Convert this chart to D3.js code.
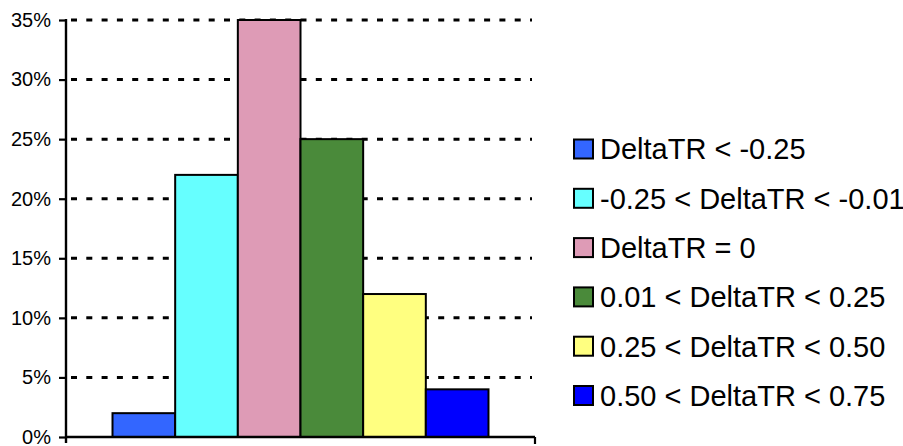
<!DOCTYPE html>
<html><head><meta charset="utf-8">
<script src="https://cdn.jsdelivr.net/npm/d3@7"></script>
<style>body{margin:0;background:#fff}svg{display:block}</style>
</head><body>
<script>
const categories = ["All"];
const seriesNames = ["DeltaTR < -0.25", "-0.25 < DeltaTR < -0.01", "DeltaTR = 0", "0.01 < DeltaTR < 0.25", "0.25 < DeltaTR < 0.50", "0.50 < DeltaTR < 0.75"];
const seriesValues = [2, 22, 35, 25, 12, 4];
const seriesColors = ["#3366FF", "#66FFFF", "#DE9BB6", "#4A8A3A", "#FFFF80", "#0000FF"];
const yTicks = [0, 5, 10, 15, 20, 25, 30, 35];

const W = 903, H = 446;
const svg = d3.select("body").append("svg").attr("width", W).attr("height", H);
const L = 66, R = 535, T = 20, B = 437;
const font = "Liberation Sans, Arial, sans-serif";

const y = d3.scaleLinear().domain([0, 35]).range([B, T]);
const x0 = d3.scaleBand().domain(categories).range([L, R]).paddingInner(0).paddingOuter(0.1237);
const x1 = d3.scaleBand().domain(seriesNames).range([0, x0.bandwidth()]).padding(0);

// gridlines
svg.append("g").selectAll("line").data(yTicks.filter(d => d > 0)).join("line")
  .attr("x1", L + 5).attr("x2", R - 3)
  .attr("y1", d => y(d)).attr("y2", d => y(d))
  .attr("stroke", "#000").attr("stroke-width", 3).attr("stroke-dasharray", "6,9.3");

// bars
svg.append("g").selectAll("rect").data(seriesNames.map((s, i) => ({s, v: seriesValues[i], c: seriesColors[i]}))).join("rect")
  .attr("x", d => x0(categories[0]) + x1(d.s))
  .attr("width", x1.bandwidth())
  .attr("y", d => y(d.v))
  .attr("height", d => y(0) - y(d.v))
  .attr("fill", d => d.c).attr("stroke", "#000").attr("stroke-width", 2);

// y axis
const yAxis = d3.axisLeft(y).tickValues(yTicks).tickFormat(d => d + "%").tickSize(7).tickPadding(8);
const ga = svg.append("g").attr("transform", `translate(${L},0)`).call(yAxis);
ga.select(".domain").remove();
ga.selectAll(".tick line").attr("stroke", "#000").attr("stroke-width", 2.2);
ga.selectAll("text").attr("font-family", font).attr("font-size", 20).attr("fill", "#000");
svg.append("line").attr("x1", L).attr("x2", L).attr("y1", T - 1).attr("y2", B + 6).attr("stroke", "#000").attr("stroke-width", 2.4);

// x axis
svg.append("line").attr("x1", L).attr("x2", R).attr("y1", B).attr("y2", B).attr("stroke", "#000").attr("stroke-width", 2.6);
svg.append("line").attr("x1", R).attr("x2", R).attr("y1", B).attr("y2", B + 7).attr("stroke", "#000").attr("stroke-width", 2.2);

// legend
const lg = svg.append("g").selectAll("g").data(seriesNames).join("g")
  .attr("transform", (d, i) => `translate(574, ${149 + i * 49.3})`);
lg.append("rect").attr("x", 0).attr("y", -9.5).attr("width", 19).attr("height", 19)
  .attr("fill", (d, i) => seriesColors[i]).attr("stroke", "#000").attr("stroke-width", 2);
lg.append("text").attr("x", 26).attr("y", 0).attr("dy", "0.36em")
  .attr("font-family", font).attr("font-size", 29).attr("fill", "#000").text(d => d);
</script>
</body></html>
